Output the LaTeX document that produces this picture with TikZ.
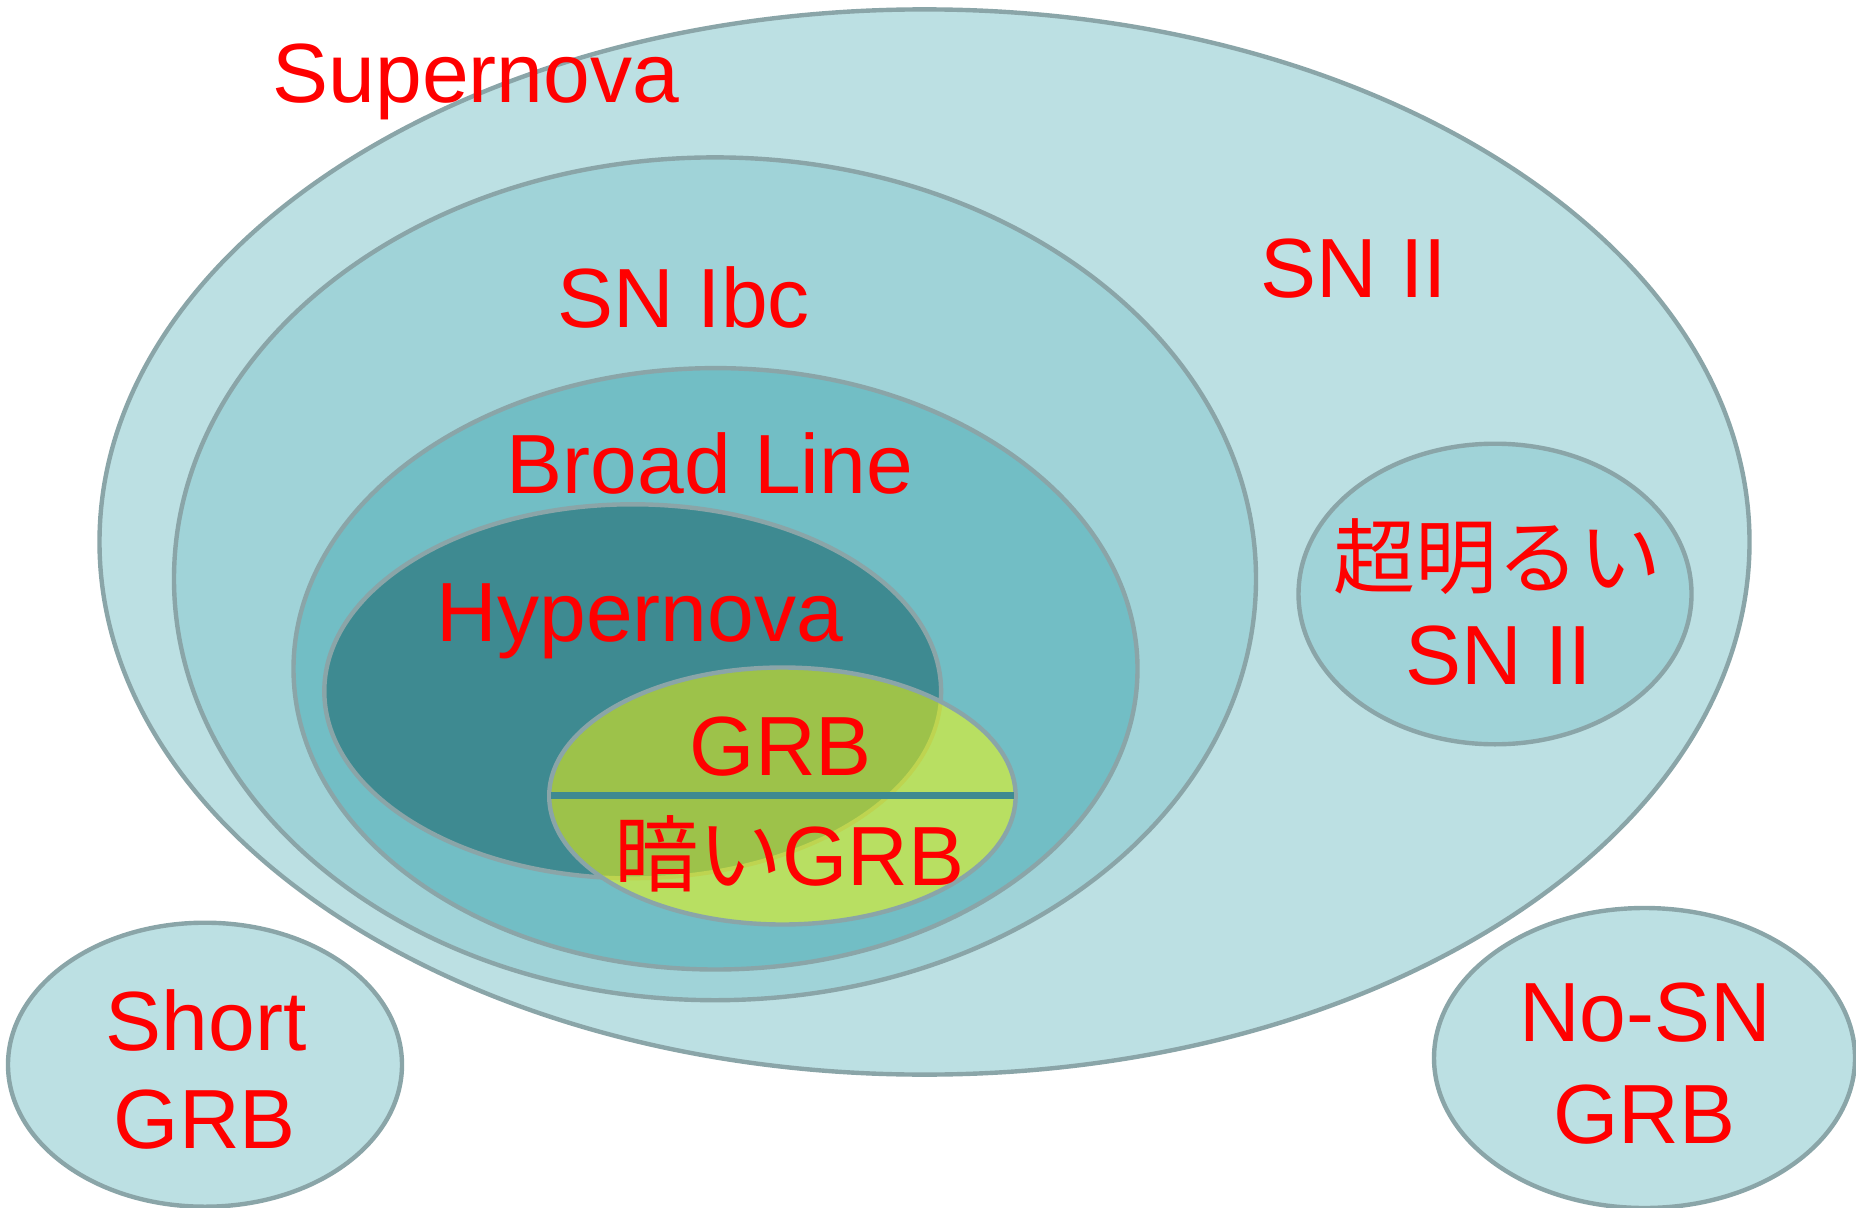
\documentclass[tikz,border=0pt]{standalone}
\usepackage{fontspec}
\setmainfont{Liberation Sans}
\newfontfamily\cjk{Noto Sans CJK JP}
\definecolor{cSN}{HTML}{BCE0E3}
\definecolor{cIbc}{HTML}{A0D3D8}
\definecolor{cBL}{HTML}{72BEC5}
\definecolor{cHN}{HTML}{3E8A91}
\definecolor{cGRB}{HTML}{B8DF62}
\definecolor{cGRBd}{HTML}{9DC24A}
\definecolor{cEdge}{HTML}{8AA5A8}
\definecolor{cRed}{HTML}{FF0000}
\tikzset{
  setbox/.style={draw=cEdge, line width=2.2pt},
  lbl/.style={text=cRed, font=\fontsize{42}{50}\selectfont, anchor=base, inner sep=0pt},
}
\begin{document}
\begin{tikzpicture}[x=0.5pt,y=-0.5pt]
\useasboundingbox (0,0) rectangle (1856,1208);
% outer supernova
\draw[setbox, fill=cSN] (924.5,542) ellipse [x radius=825, y radius=532.6];
\draw[setbox, fill=cIbc] (715,578.8) ellipse [x radius=541, y radius=421.4];
\draw[setbox, fill=cBL] (715.5,668.8) ellipse [x radius=422, y radius=300.7];
\draw[setbox, fill=cHN] (632.7,691.3) ellipse [x radius=308.4, y radius=187];
% GRB
\fill[cGRB] (782.4,796) ellipse [x radius=233.2, y radius=128.5];
\begin{scope}
  \clip (782.4,796) ellipse [x radius=233.2, y radius=128.5];
  \draw[fill=cGRBd, draw=cGRB!70!yellow!80!gray, line width=2pt] (632.7,691.3) ellipse [x radius=308.4, y radius=187];
\end{scope}
\draw[setbox] (782.4,796) ellipse [x radius=233.2, y radius=128.5];
\coordinate (gl) at (551,795.5);
\coordinate (gr) at (1014,795.5);
\draw[cHN, line width=3.5pt] (gl) -- (gr);
% bright SN II
\draw[setbox, fill=cIbc] (1495,594) ellipse [x radius=196.5, y radius=150.3];
% short GRB, no-SN GRB
\draw[setbox, fill=cSN] (205,1064.7) ellipse [x radius=197, y radius=142];
\draw[setbox, fill=cSN] (1644.5,1058) ellipse [x radius=210.5, y radius=150];
% labels
\node[lbl] (tSN) at (476,103) {Supernova};
\node[lbl] (tIbc) at (684,328) {SN Ibc};
\node[lbl] (tII) at (1354,298) {SN II};
\node[lbl] (tBL) at (710,493.6) {Broad Line};
\node[lbl] (tHN) at (640,641.6) {Hypernova};
\node[lbl] (tGRB) at (781,775) {GRB};
\node[lbl] (tDark) at (789.5,885.4) {{\cjk 暗い}GRB};
\node[lbl, font=\fontsize{41}{50}\selectfont] (tBright) at (1497,587) {\cjk 超明るい};
\node[lbl] (tBrightII) at (1499,684) {SN II};
\node[lbl] (tShort) at (206,1050) {Short};
\node[lbl] (tShortG) at (205,1148) {GRB};
\node[lbl] (tNoSN) at (1645,1041.7) {No-SN};
\node[lbl] (tNoSNG) at (1644,1143.5) {GRB};
\end{tikzpicture}
\end{document}
